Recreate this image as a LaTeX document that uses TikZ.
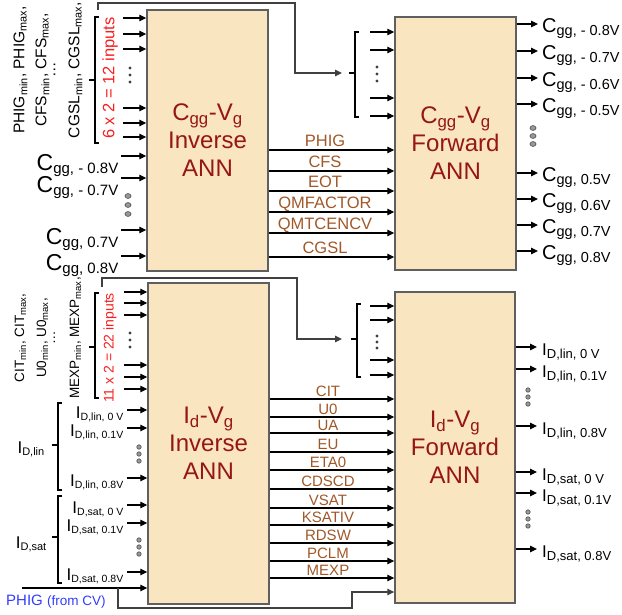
\documentclass[tikz,border=0pt]{standalone}
\usepackage{fontspec}
\setmainfont{Liberation Sans}
\usepackage{xcolor}
\usetikzlibrary{arrows.meta}
\definecolor{annfill}{RGB}{250,229,193}
\definecolor{anntitle}{RGB}{150,22,22}
\definecolor{parbrown}{RGB}{160,88,40}
\definecolor{boxgray}{RGB}{95,95,95}
\definecolor{inred}{RGB}{250,30,30}
\definecolor{inblue}{RGB}{50,60,250}
\newcommand{\fsz}[2]{\fontsize{#1}{#2}\selectfont}
\newcommand{\sbx}[2]{\textsubscript{\fsz{#1}{#1}#2}}

\begin{document}
\begin{tikzpicture}[x=1pt, y=-1pt,
  ann/.style={draw=boxgray, fill=annfill, line width=1.4pt, align=center, text=anntitle, font=\fsz{24}{28}, inner sep=0pt},
  arr/.style={-{Triangle[length=7pt,width=6.5pt]}, line width=1.1pt},
  fbk/.style={arr, draw=black!75},
  brk/.style={line width=1.5pt},
  inlbl/.style={anchor=base east, inner sep=0pt},
  outlbl/.style={anchor=base west, inner sep=0pt},
  parlbl/.style={anchor=base, text=parbrown, inner sep=0pt},
  ring/.style={draw=black!65, fill=black!40, line width=0.7pt},
  dotk/.style={fill=black!75}]
\useasboundingbox (0,0) rectangle (622,614);
% Cgg-Vg inverse and forward ANN
\begin{scope}
\node[ann, minimum width=121pt, minimum height=261pt] (cinv) at (207.5,140.5) {C\textsubscript{gg}-V\textsubscript{g}\\Inverse\\ANN};
\node[ann, minimum width=121pt, minimum height=253pt] (cfwd) at (455.5,143.5) {C\textsubscript{gg}-V\textsubscript{g}\\Forward\\ANN};
\node[rotate=90, align=center, font=\fsz{15.5}{22}] (cpar) at (48,70) {PHIG\textsubscript{min}, PHIG\textsubscript{max},\\ CFS\textsubscript{min}, CFS\textsubscript{max},\\[-13pt] \dots\\[2pt] CGSL\textsubscript{min}, CGSL\textsubscript{max},};
\node[rotate=90, text=inred, font=\fsz{16.5}{18}] (cnum) at (110,78) {6 x 2 = 12 inputs};
\draw[brk] (99,17) -| (95,143) -- (99,143) (95,80) -- (89,80);
\foreach \yy [count=\i] in {18,34,49,108,123,137} {
  \coordinate (ci\i) at (123,\yy);
  \draw[arr] (ci\i) -- (ci\i -| cinv.west);
}
\foreach \yy in {68,75,82} \fill[dotk] (130,\yy) circle (1.6pt);
\foreach \yy/\vv [count=\i] in {156/{- 0.8V},178/{- 0.7V},230/{0.7V},256/{0.8V}} {
  \coordinate (cg\i) at (121,\yy);
  \draw[arr] (cg\i) -- (cg\i -| cinv.west);
  \node[inlbl, font=\fsz{23}{26}] (cgl\i) at (119,\yy+14) {C\sbx{15}{gg, \vv}};
}
\foreach \yy in {196,205,214} \draw[ring] (128,\yy) ellipse (3pt and 2.4pt);
% feedback of the inputs to the forward ANN
\coordinate (cfb) at (98,10);
\coordinate (cbr) at (342,73);
\draw[fbk] (cfb) |- (295,3) |- (cbr);
\draw[brk] (359,32) -| (355,117) -- (359,117) (355,73) -- (349,73);
\foreach \yy [count=\i] in {32,50,98,116} {
  \coordinate (cm\i) at (370,\yy);
  \draw[arr] (cm\i) -- (cm\i -| cfwd.west);
}
\foreach \yy in {67,74,81} \fill[dotk] (377,\yy) circle (1.6pt);
% extracted parameters
\foreach \yy/\pp [count=\i] in {150/PHIG,171/CFS,191/EOT,212/QMFACTOR,233/QMTCENCV,257/CGSL} {
  \node[parlbl, font=\fsz{16.5}{18}] (cp\i) at (325,\yy-4) {\pp};
  \draw[arr] (cinv.east |- 0,\yy) -- (cfwd.west |- 0,\yy);
}
% outputs
\foreach \yy/\vv [count=\i] in {24/{- 0.8V},51/{- 0.7V},78/{- 0.6V},104/{- 0.5V},173/{0.5V},199/{0.6V},225/{0.7V},251/{0.8V}} {
  \coordinate (co\i) at (538,\yy);
  \draw[arr] (co\i -| cfwd.east) -- (co\i);
  \node[outlbl, font=\fsz{20}{22}] (col\i) at (542,\yy+8) {C\sbx{14.5}{gg, \vv}};
}
\foreach \yy in {128,136,144} \draw[ring] (533,\yy) ellipse (3pt and 2.4pt);
\end{scope}
% Id-Vg inverse and forward ANN
\begin{scope}
\node[ann, minimum width=121pt, minimum height=321pt] (iinv) at (208.5,443.5) {I\textsubscript{d}-V\textsubscript{g}\\Inverse\\ANN};
\node[ann, minimum width=120pt, minimum height=311pt] (ifwd) at (455,447.5) {I\textsubscript{d}-V\textsubscript{g}\\Forward\\ANN};
\node[rotate=90, align=center, font=\fsz{13.5}{22}] (ipar) at (48,338) {CIT\textsubscript{min}, CIT\textsubscript{max},\\ U0\textsubscript{min}, U0\textsubscript{max},\\[-13pt] \dots\\[2pt] MEXP\textsubscript{min}, MEXP\textsubscript{max},};
\node[rotate=90, text=inred, font=\fsz{14}{16}] (inum) at (110,348) {11 x 2 = 22 inputs};
\draw[brk] (99,293) -| (95,398) -- (99,398) (95,347) -- (89,347);
\foreach \yy [count=\i] in {292,303,315,365,377,389} {
  \coordinate (ii\i) at (124,\yy);
  \draw[arr] (ii\i) -- (ii\i -| iinv.west);
}
\foreach \yy in {333,340,347} \fill[dotk] (130,\yy) circle (1.6pt);
\node[inlbl, font=\fsz{17}{20}] (idlin) at (45,453) {I\sbx{11}{D,lin}};
\node[inlbl, font=\fsz{17}{20}] (idsat) at (47,548) {I\sbx{11}{D,sat}};
\draw[brk] (62,403) -| (58,490) -- (62,490) (58,445) -- (52,445);
\draw[brk] (62,496) -| (58,583) -- (62,583) (58,537) -- (52,537);
\foreach \yy/\ll [count=\i] in {410/{lin, 0 V},428/{lin, 0.1V},478/{lin, 0.8V},505/{sat, 0 V},523/{sat, 0.1V},572/{sat, 0.8V}} {
  \coordinate (ia\i) at (127,\yy);
  \draw[arr] (ia\i) -- (ia\i -| iinv.west);
  \node[inlbl, font=\fsz{17}{20}] (ial\i) at (124,\yy+8) {I\sbx{10.5}{D,\ll}};
}
\foreach \yy in {447,454,461,540,547,554} \draw[ring] (139,\yy) circle (2.2pt);
% PHIG taken from the CV part
\node[anchor=base west, text=inblue, inner sep=0pt] (phig) at (6,605) {\fsz{15}{18}PHIG \fsz{13.5}{18}(from CV)};
\coordinate (phin) at (22,588);
\coordinate (phtap) at (118,588);
\coordinate (phfw) at (ifwd.west |- 0,592);
\draw[arr] (phin) -- (phin -| iinv.west);
\draw[fbk] (phtap) |- (352,608) |- (phfw);
% feedback of the inputs to the forward ANN
\coordinate (ifb) at (102,287);
\coordinate (ibr) at (342,339);
\draw[fbk] (ifb) |- (297,278) |- (ibr);
\draw[brk] (361,304) -| (357,377) -- (361,377) (357,339) -- (351,339);
\foreach \yy [count=\i] in {306,320,360,375} {
  \coordinate (im\i) at (370,\yy);
  \draw[arr] (im\i) -- (im\i -| ifwd.west);
}
\foreach \yy in {336,342,348} \fill[dotk] (377,\yy) circle (1.6pt);
% extracted parameters
\foreach \yy/\pp [count=\i] in {399/CIT,417/U0,433/UA,452/EU,470/ETA0,489/CDSCD,508/VSAT,525/KSATIV,543/RDSW,561/PCLM,578/MEXP} {
  \node[parlbl, font=\fsz{15}{17}] (ip\i) at (328,\yy-2.5) {\pp};
  \draw[arr] (iinv.east |- 0,\yy) -- (ifwd.west |- 0,\yy);
}
% outputs
\foreach \yy/\ll [count=\i] in {347/{lin, 0 V},369/{lin, 0.1V},426/{lin, 0.8V},472/{sat, 0 V},493/{sat, 0.1V},549/{sat, 0.8V}} {
  \coordinate (io\i) at (537,\yy);
  \draw[arr] (io\i -| ifwd.east) -- (io\i);
  \node[outlbl, font=\fsz{17}{20}] (iol\i) at (542,\yy+8) {I\sbx{13}{D,\ll}};
}
\foreach \yy in {390,397,404,512,519,526} \draw[ring] (528,\yy) circle (2.2pt);
\end{scope}
\end{tikzpicture}
\end{document}
